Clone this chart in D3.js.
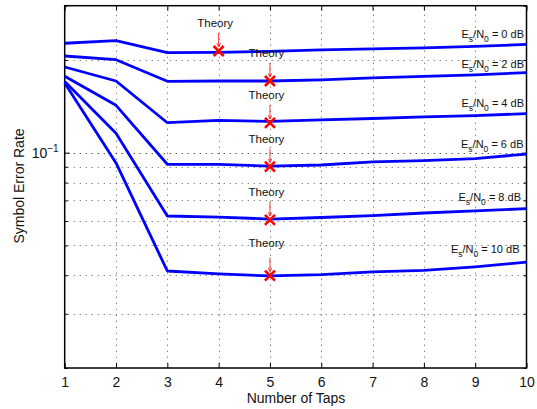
<!DOCTYPE html>
<html><head><meta charset="utf-8">
<script src="https://cdn.jsdelivr.net/npm/d3@7"></script>
<style>body{margin:0;background:#fff}svg{display:block;font-family:"Liberation Sans",Arial,sans-serif}</style>
</head><body><svg id="c" width="537" height="409"></svg>
<script>
const taps = [1,2,3,4,5,6,7,8,9,10];
const snrLabels = [0,2,4,6,8,10];
const ser0  = [0.2266,0.2310,0.2112,0.2118,0.2131,0.2155,0.2171,0.2188,0.2212,0.2246];
const ser2  = [0.2060,0.2004,0.1705,0.1709,0.1709,0.1722,0.1748,0.1768,0.1788,0.1819];
const ser4  = [0.1897,0.1709,0.1251,0.1274,0.1263,0.1277,0.1291,0.1306,0.1320,0.1339];
const ser6  = [0.1771,0.1425,0.0917,0.0916,0.0905,0.0912,0.0933,0.0943,0.0957,0.0990];
const ser8  = [0.1703,0.1156,0.0623,0.0618,0.0609,0.0616,0.0625,0.0637,0.0647,0.0658];
const ser10 = [0.1684,0.0926,0.0413,0.0404,0.0398,0.0402,0.0410,0.0415,0.0426,0.0441];
const theoryTaps = [4,5,5,5,5,5];
const theorySER  = [0.2139,0.1709,0.1249,0.0901,0.0605,0.0399];
const xTicks = [1,2,3,4,5,6,7,8,9,10];
const yMinor = [0.02,0.03,0.04,0.05,0.06,0.07,0.08,0.09,0.2,0.3];
const yMajor = [0.1];
const seriesList = [ser0,ser2,ser4,ser6,ser8,ser10];

const svg = d3.select("#c");
const L=64.7,R=526.5,T=5.7,B=368;
const x = d3.scaleLinear().domain([1,10]).range([L,R]);
const y = d3.scaleLog().domain([0.02,0.3]).range([B,T]);
const px = v => Math.round(v)+0.5;

// grid
const g = svg.append("g");
xTicks.slice(1,-1).forEach(t=>g.append("line").attr("x1",px(x(t))).attr("x2",px(x(t))).attr("y1",T+3).attr("y2",B)
  .attr("stroke","#555").attr("stroke-width",1).attr("stroke-dasharray","1,5"));
yMinor.forEach(t=>{ if(t>0.02 && t<0.3) g.append("line").attr("x1",L+3).attr("x2",R).attr("y1",px(y(t))).attr("y2",px(y(t)))
  .attr("stroke","#555").attr("stroke-width",1).attr("stroke-dasharray","1,5");});
yMajor.forEach(t=>g.append("line").attr("x1",L+3).attr("x2",R).attr("y1",px(y(t))).attr("y2",px(y(t)))
  .attr("stroke","#111").attr("stroke-width",1).attr("stroke-dasharray","1,5"));

// axes
const xa = svg.append("g").attr("transform",`translate(0,${B})`)
  .call(d3.axisBottom(x).tickValues(xTicks).tickFormat(d3.format("d")).tickSizeInner(-5).tickSizeOuter(0).tickPadding(9));
xa.select(".domain").remove();
xa.selectAll("text").attr("font-size",14).attr("fill","#111").attr("font-family","Liberation Sans, Arial");
const xt = svg.append("g").attr("transform",`translate(0,${T})`)
  .call(d3.axisTop(x).tickValues(xTicks).tickFormat("").tickSizeInner(-5).tickSizeOuter(0));
xt.select(".domain").remove();
const yl = svg.append("g").attr("transform",`translate(${L},0)`)
  .call(d3.axisLeft(y).tickValues(yMinor.concat(yMajor)).tickFormat("").tickSizeInner(-3).tickSizeOuter(0));
yl.select(".domain").remove();
yl.selectAll(".tick line").filter(d=>d===0.1).attr("x2",5);
const yr = svg.append("g").attr("transform",`translate(${R},0)`)
  .call(d3.axisRight(y).tickValues(yMinor.concat(yMajor)).tickFormat("").tickSizeInner(-3).tickSizeOuter(0));
yr.select(".domain").remove();
yr.selectAll(".tick line").filter(d=>d===0.1).attr("x2",-5);
svg.selectAll(".tick line").attr("stroke","#000");
svg.append("rect").attr("x",L).attr("y",T).attr("width",R-L).attr("height",B-T).attr("fill","none").attr("stroke","#000").attr("stroke-width",1.5);

// y tick label 10^-1
const lab = svg.append("text").attr("x",L-6).attr("y",y(0.1)+5).attr("text-anchor","end").attr("font-size",14).attr("fill","#111");
lab.append("tspan").text("10");
lab.append("tspan").attr("dy",-6).attr("font-size",10).text("−1");

// axis titles
svg.append("text").attr("x",296).attr("y",403).attr("text-anchor","middle").attr("font-size",14).attr("fill","#111").text("Number of Taps");
svg.append("text").attr("transform",`translate(23.5,186) rotate(-90)`).attr("text-anchor","middle").attr("font-size",14).attr("fill","#111").text("Symbol Error Rate");

// lines
const line = d3.line().x((d,i)=>x(taps[i])).y(d=>y(d));
seriesList.forEach(s=>svg.append("path").attr("d",line(s)).attr("fill","none").attr("stroke","#0000ff").attr("stroke-width",2.8).attr("stroke-linejoin","round"));

// series labels
const labOff = [6,5,6.4,5.7,8,9.6];
const labRight = [524,524,524,523.5,521,519.5];
seriesList.forEach((s,i)=>{
  const ty = y(s[9]) - labOff[i];
  const t = svg.append("text").attr("x",labRight[i]).attr("y",ty).attr("text-anchor","end").attr("font-size",11).attr("fill","#111");
  t.append("tspan").text("E");
  t.append("tspan").attr("dy",4).attr("font-size",8.5).text("s");
  t.append("tspan").attr("dy",-4).text("/N");
  t.append("tspan").attr("dy",4).attr("font-size",8.5).text("0");
  t.append("tspan").attr("dy",-4).text(" = "+snrLabels[i]+" dB");
});

// theory markers
svg.append("defs").append("marker").attr("id","ah").attr("viewBox","0 0 10 10").attr("refX",9).attr("refY",5)
  .attr("markerWidth",6).attr("markerHeight",6).attr("orient","auto")
  .append("path").attr("d","M1,1 L9,5 L1,9").attr("fill","none").attr("stroke","#f00").attr("stroke-width",1.5);
theoryTaps.forEach((tp,i)=>{
  const cx=x(tp), cy=y(theorySER[i]);
  const extra = i===5?5:0;
  svg.append("text").attr("x",cx-3.5).attr("y",cy-24-extra).attr("text-anchor","middle").attr("font-size",11.5).attr("fill","#111").text("Theory");
  svg.append("line").attr("x1",cx).attr("x2",cx).attr("y1",cy-18).attr("y2",cy-4).attr("stroke","#f00").attr("stroke-width",0.8).attr("marker-end","url(#ah)");
  const s=5;
  svg.append("path").attr("d",`M${cx-s},${cy-s}L${cx+s},${cy+s}M${cx-s},${cy+s}L${cx+s},${cy-s}`).attr("stroke","#f00").attr("stroke-width",2.6);
});
</script></body></html>
